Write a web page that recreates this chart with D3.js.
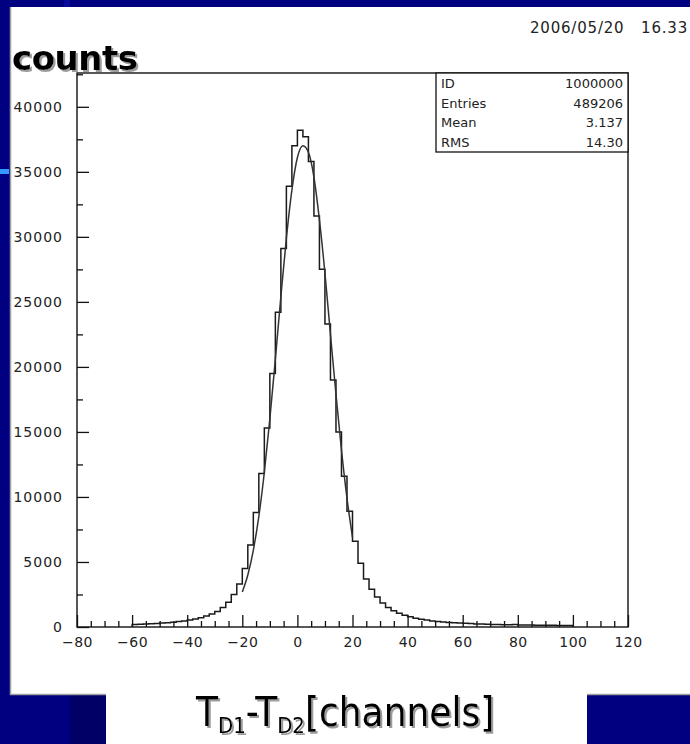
<!DOCTYPE html>
<html>
<head>
<meta charset="utf-8">
<script src="https://cdn.jsdelivr.net/npm/d3@7"></script>
<style>
  html, body { margin: 0; padding: 0; background: #000080; }
  svg { display: block; }
</style>
</head>
<body>
<svg id="chart" width="690" height="744"></svg>
<script>
// histogram bins, width 2, left edges from -60 to 98
let binStart = -60
let binWidth = 2
let counts = [
  200, 210, 230, 250, 270, 300, 330, 370, 420, 470,
  540, 620, 720, 850, 1000, 1200, 1500, 1900, 2500, 3300,
  4500, 6300, 8800, 11800, 15300, 19500, 24200, 29100, 33900, 37000,
  38200, 37700, 35800, 31600, 27500, 23300, 19000, 15000, 11600, 8900,
  6600, 4900, 3700, 2900, 2300, 1850, 1500, 1250, 1050, 900,
  780, 680, 600, 530, 470, 420, 380, 350, 320, 300,
  280, 260, 240, 225, 210, 200, 190, 180, 170, 200,
  160, 150, 145, 140, 135, 130, 125, 120, 115, 110
]

// gaussian fit curve
let fitX = [-20, -18, -16, -14, -12, -10, -8, -6, -4, -2, 0, 2, 4, 6, 8, 10, 12, 14, 16, 18, 20]
let fitY = [2700, 4000, 5900, 8500, 11900, 16000, 20600, 25400, 29900, 33600, 36100,
            37000, 36500, 34600, 31300, 27200, 22500, 17900, 13600, 9900, 6900]

let xTicks = [-80, -60, -40, -20, 0, 20, 40, 60, 80, 100, 120]
let yTicks = [0, 5000, 10000, 15000, 20000, 25000, 30000, 35000, 40000]

let statNames = ["ID", "Entries", "Mean", "RMS"]
let statValues = ["1000000", "489206", "3.137", "14.30"]

let dateDay = "2006/05/20"
let dateTime = "16.33"

let svg = d3.select("#chart")

// drop shadow used by the slide texts
let shadow = svg.append("defs").append("filter").attr("id", "shadow")
  .attr("x", "-5%").attr("y", "-10%").attr("width", "115%").attr("height", "130%")
shadow.append("feOffset").attr("in", "SourceAlpha").attr("dx", 2).attr("dy", 2).attr("result", "off")
shadow.append("feFlood").attr("flood-color", "#9c9c9c")
shadow.append("feComposite").attr("in2", "off").attr("operator", "in").attr("result", "sh")
let merge = shadow.append("feMerge")
merge.append("feMergeNode").attr("in", "sh")
merge.append("feMergeNode").attr("in", "SourceGraphic")

// slide background pieces
svg.append("rect").attr("x", 0).attr("y", 0).attr("width", 690).attr("height", 744).attr("fill", "#000080")
svg.append("rect").attr("x", 64).attr("y", 0).attr("width", 6).attr("height", 8).attr("fill", "#0a0a9a")
svg.append("rect").attr("x", 70).attr("y", 694).attr("width", 36).attr("height", 50).attr("fill", "#000066")
svg.append("rect").attr("x", 0).attr("y", 169).attr("width", 9).attr("height", 5).attr("fill", "#3399ff")

// white picture panel + label box
svg.append("rect").attr("x", 10).attr("y", 7).attr("width", 680).attr("height", 687).attr("fill", "#ffffff")
svg.append("rect").attr("x", 106).attr("y", 693).attr("width", 481).attr("height", 51).attr("fill", "#ffffff")
svg.append("path")
  .attr("d", "M10.5,7 V694.5 H106")
  .attr("fill", "none").attr("stroke", "#a0a0a0").attr("stroke-width", 1.5)
svg.append("path")
  .attr("d", "M587,694.5 H690")
  .attr("fill", "none").attr("stroke", "#a0a0a0").attr("stroke-width", 1.5)

let frameL = 77, frameR = 628, frameT = 73, frameB = 627

let x = d3.scaleLinear().domain([-80, 120]).range([frameL, frameR])
let y = d3.scaleLinear().domain([0, 42600]).range([frameB, frameT])

let tickFont = "'DejaVu Sans', sans-serif"

// frame
svg.append("rect")
  .attr("x", frameL).attr("y", frameT)
  .attr("width", frameR - frameL).attr("height", frameB - frameT)
  .attr("fill", "none").attr("stroke", "#111").attr("stroke-width", 1.4)

// x axis minor ticks (every 5)
let xMinor = d3.range(-80, 121, 5).filter(v => v % 20 != 0)
svg.append("g")
  .attr("transform", "translate(0," + frameB + ")")
  .call(d3.axisBottom(x).tickValues(xMinor).tickSize(-6).tickFormat(""))
  .call(g => g.select(".domain").remove())
  .selectAll("line").attr("stroke", "#111").attr("stroke-width", 1.3)

// x axis major ticks + labels
let xAxis = svg.append("g")
  .attr("transform", "translate(0," + frameB + ")")
  .call(d3.axisBottom(x).tickValues(xTicks).tickSize(-12).tickPadding(6)
    .tickFormat(d => (d < 0 ? "\u2212" + Math.abs(d) : d)))
xAxis.select(".domain").remove()
xAxis.selectAll("line").attr("stroke", "#111").attr("stroke-width", 1.3)
xAxis.selectAll("text")
  .attr("y", 10)
  .style("font-family", tickFont).style("font-size", "14px").style("letter-spacing", "0.5px")
  .attr("fill", "#222")

// y axis minor ticks (every 2500)
let yMinor = d3.range(2500, 42600, 5000)
svg.append("g")
  .attr("transform", "translate(" + frameL + ",0)")
  .call(d3.axisLeft(y).tickValues(yMinor).tickSize(-6).tickFormat(""))
  .call(g => g.select(".domain").remove())
  .selectAll("line").attr("stroke", "#111").attr("stroke-width", 1.3)

let yAxis = svg.append("g")
  .attr("transform", "translate(" + frameL + ",0)")
  .call(d3.axisLeft(y).tickValues(yTicks).tickSize(-12).tickPadding(14).tickFormat(d => d))
yAxis.select(".domain").remove()
yAxis.selectAll("line").attr("stroke", "#111").attr("stroke-width", 1.3)
yAxis.selectAll("text")
  .style("font-family", tickFont).style("font-size", "14px").style("letter-spacing", "1px")
  .attr("fill", "#222")

// histogram outline
let histPts = [[binStart, 0]]
counts.forEach(function (c, i) {
  histPts.push([binStart + i * binWidth, c])
  histPts.push([binStart + (i + 1) * binWidth, c])
})
histPts.push([binStart + counts.length * binWidth, 0])

svg.append("path")
  .datum(histPts)
  .attr("fill", "none")
  .attr("stroke", "#1a1a1a")
  .attr("stroke-width", 1.5)
  .attr("d", d3.line().x(d => x(d[0])).y(d => y(d[1])))

// fit curve
svg.append("path")
  .datum(fitX.map((v, i) => [v, fitY[i]]))
  .attr("fill", "none")
  .attr("stroke", "#333")
  .attr("stroke-width", 1.5)
  .attr("d", d3.line().x(d => x(d[0])).y(d => y(d[1])).curve(d3.curveMonotoneX))

// stats box
let boxL = 436, boxB = 152
let rowH = (boxB - frameT) / statNames.length
svg.append("rect")
  .attr("x", boxL).attr("y", frameT)
  .attr("width", frameR - boxL).attr("height", boxB - frameT)
  .attr("fill", "#fff").attr("stroke", "#111").attr("stroke-width", 1.3)

svg.append("g").selectAll("text")
  .data(statNames).enter().append("text")
  .attr("x", boxL + 5)
  .attr("y", (d, i) => frameT + rowH * (i + 0.5) + 5)
  .text(d => d)
  .style("font-family", tickFont).style("font-size", "13px").attr("fill", "#222")

svg.append("g").selectAll("text")
  .data(statValues).enter().append("text")
  .attr("x", frameR - 5)
  .attr("y", (d, i) => frameT + rowH * (i + 0.5) + 5)
  .attr("text-anchor", "end")
  .text(d => d)
  .style("font-family", tickFont).style("font-size", "13px").attr("fill", "#222")

// date stamp
svg.append("text")
  .attr("x", 530).attr("y", 33)
  .text(dateDay)
  .style("font-family", tickFont).style("font-size", "15px").style("letter-spacing", "0.8px")
  .attr("fill", "#222")
svg.append("text")
  .attr("x", 688).attr("y", 33)
  .attr("text-anchor", "end")
  .text(dateTime)
  .style("font-family", tickFont).style("font-size", "15px").style("letter-spacing", "0.8px")
  .attr("fill", "#222")

// "counts" title with shadow
svg.append("text")
  .attr("x", 12).attr("y", 70)
  .attr("filter", "url(#shadow)")
  .text("counts")
  .style("font-family", "'DejaVu Sans', Verdana, sans-serif")
  .style("font-weight", "bold").style("font-size", "34px")
  .style("letter-spacing", "-0.5px")
  .attr("fill", "#000")

// x axis title with shadow
let xt = svg.append("text")
  .attr("x", 196).attr("y", 726)
  .attr("filter", "url(#shadow)")
  .style("font-family", "'DejaVu Sans Condensed', 'DejaVu Sans', sans-serif")
  .style("font-size", "40px")
  .attr("fill", "#000")
xt.append("tspan").text("T")
xt.append("tspan").attr("dy", 7).style("font-size", "22px").text("D1")
xt.append("tspan").attr("dy", -7).text("-T")
xt.append("tspan").attr("dy", 7).style("font-size", "22px").text("D2")
xt.append("tspan").attr("dy", -7).text("[channels]")
</script>
</body>
</html>
